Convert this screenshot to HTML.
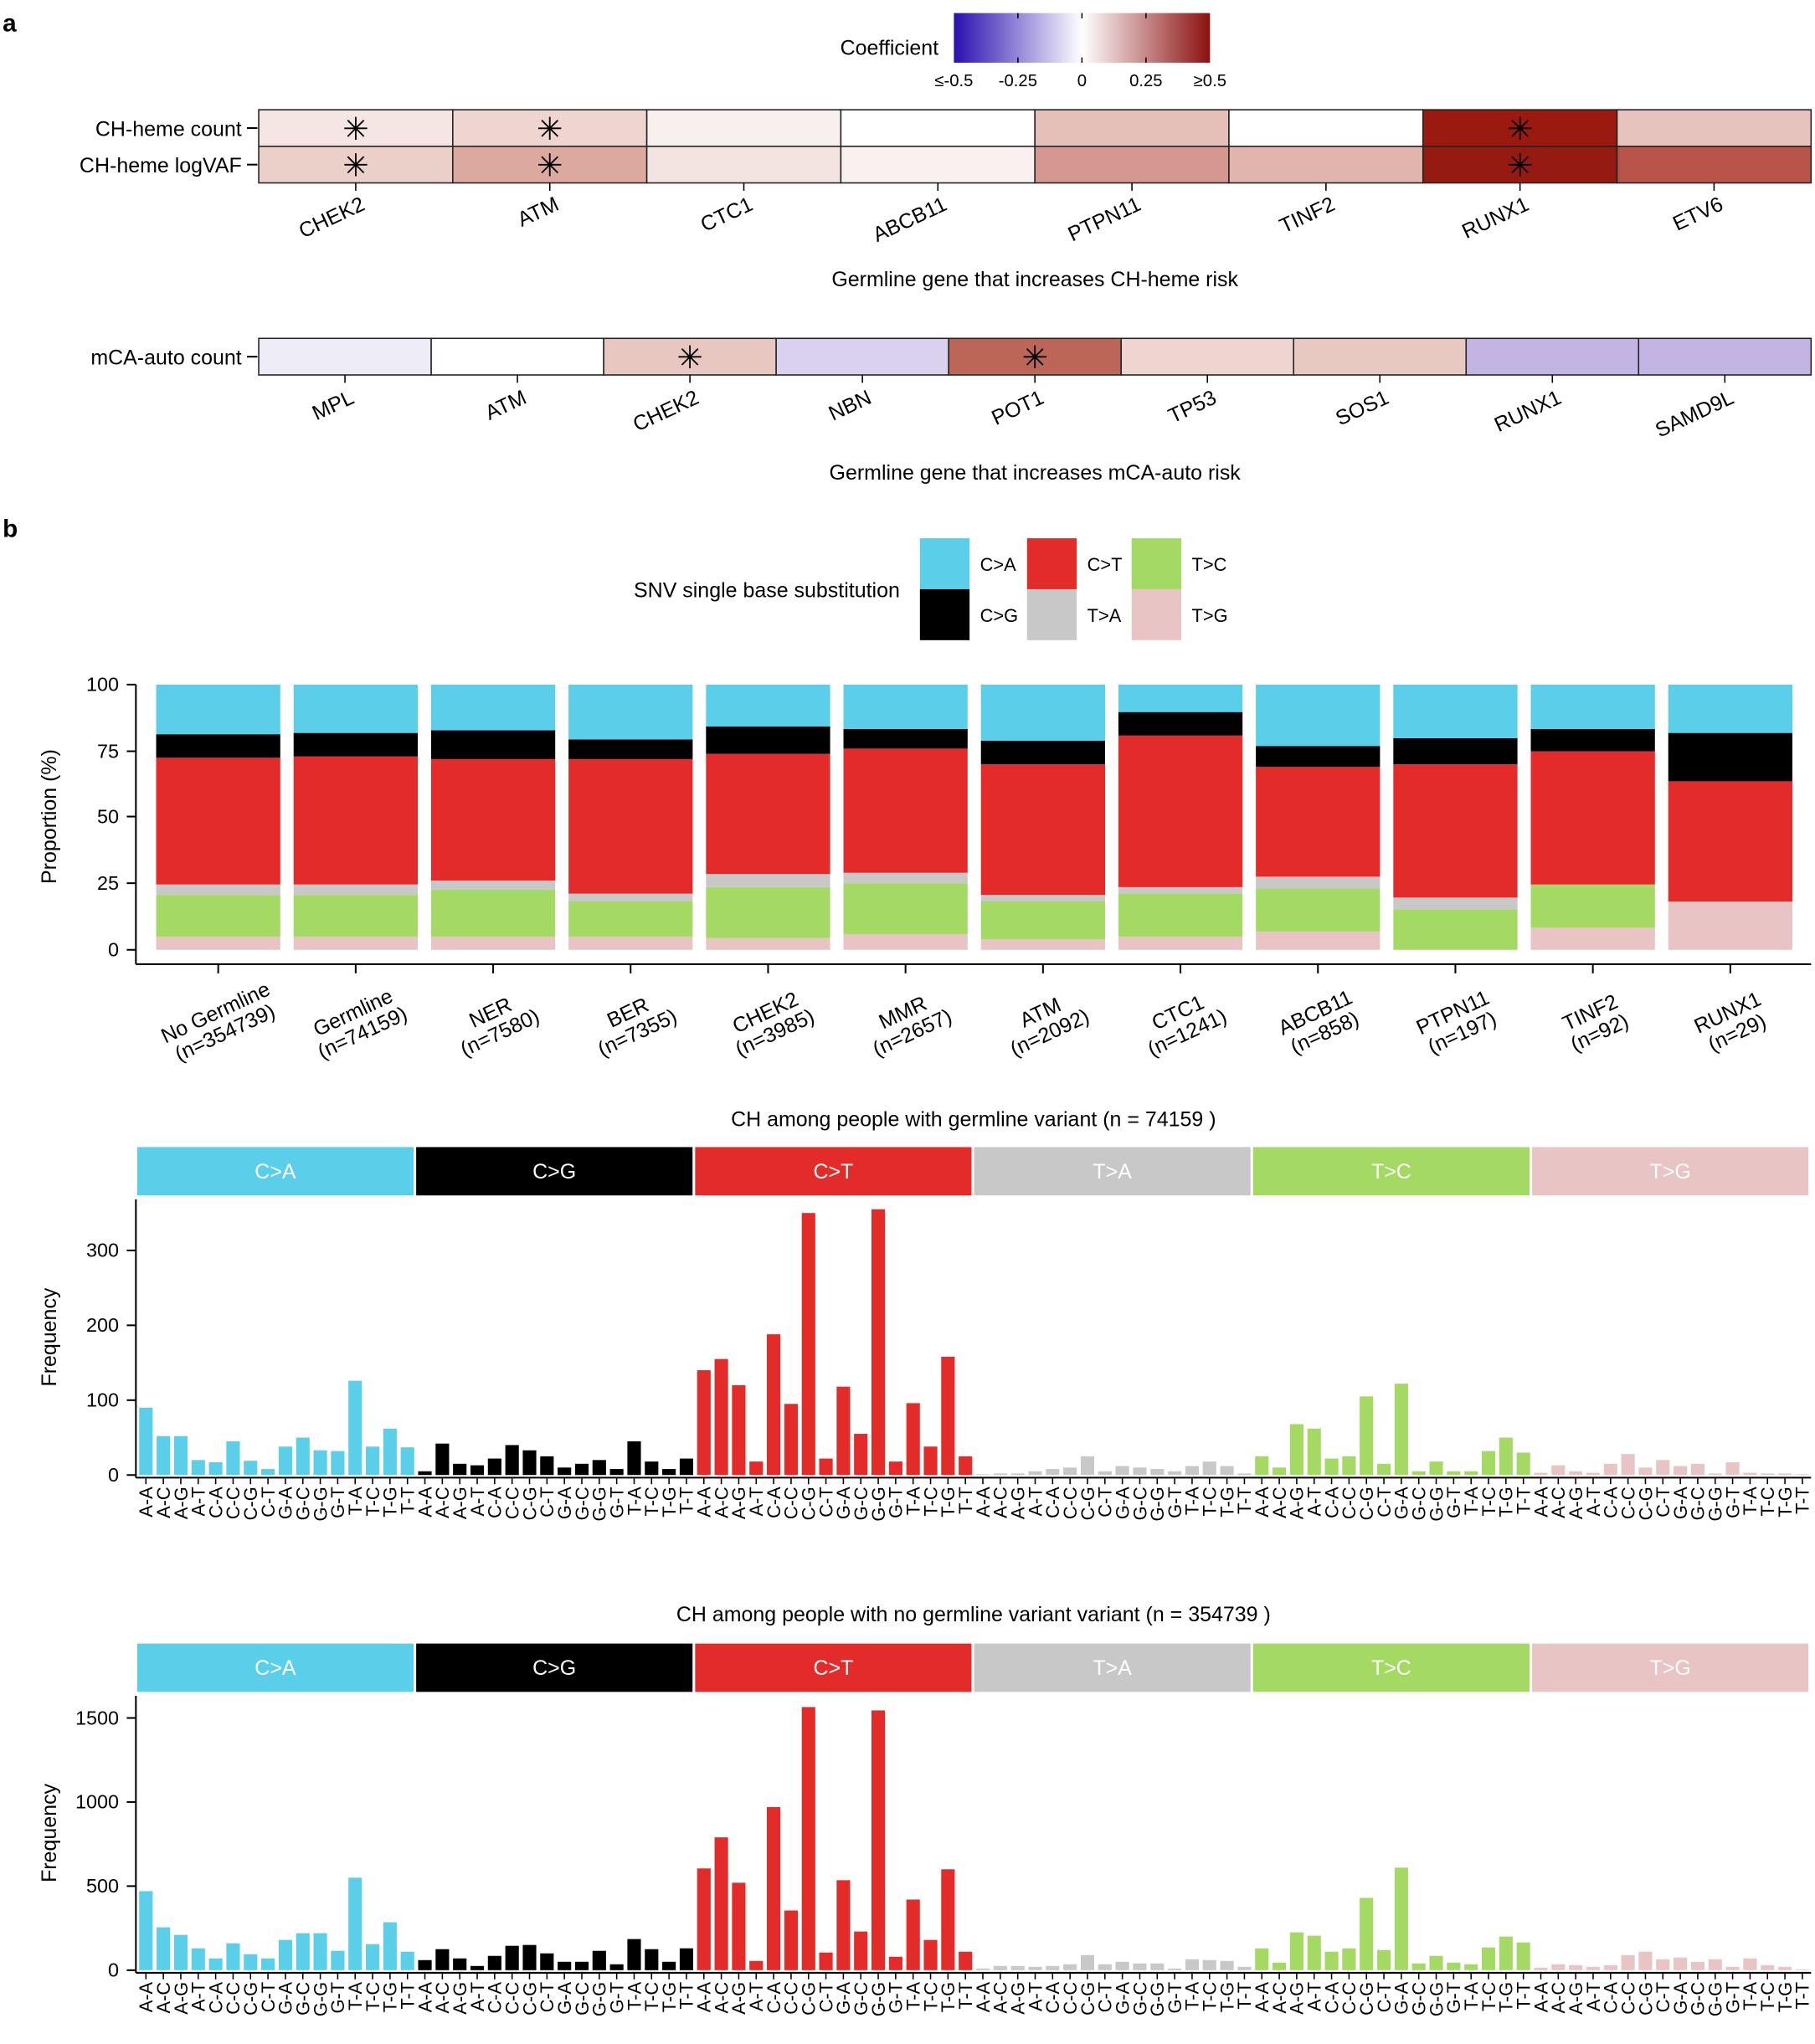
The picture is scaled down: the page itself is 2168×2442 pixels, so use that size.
<!DOCTYPE html>
<html><head><meta charset="utf-8"><style>
html,body{margin:0;padding:0;background:#fff}
svg{display:block;font-family:"Liberation Sans",Arial,sans-serif}
</style></head><body>
<svg id="s" width="2168" height="2442" viewBox="0 0 1389 1564.5" preserveAspectRatio="none" xmlns="http://www.w3.org/2000/svg">
<defs><linearGradient id="cb" x1="0" x2="1"><stop offset="0" stop-color="#2a0fb0"/><stop offset="0.5" stop-color="#ffffff"/><stop offset="1" stop-color="#8b1010"/></linearGradient></defs>
</svg>
<script>
const S=document.getElementById('s');let h='';
const T=(x,y,t,o={})=>{h+=`<text x="${x}" y="${y}" font-size="${o.fs||15}" text-anchor="${o.a||'start'}" fill="${o.f||'#000'}" ${o.tr?`transform="${o.tr}"`:''} ${o.b?'font-weight="bold"':''}>${t}</text>`};
const R=(x,y,w,ht,f,st)=>{h+=`<rect x="${x}" y="${y}" width="${w}" height="${ht}" fill="${f}" ${st?`stroke="${st}" stroke-width="1"`:''}/>`};
const L=(x1,y1,x2,y2,w=1.3)=>{h+=`<line x1="${x1}" y1="${y1}" x2="${x2}" y2="${y2}" stroke="#000" stroke-width="${w}"/>`};
const star=(x,y)=>{T(x,y+9,'✳',{fs:24,a:'middle'})};
T(2,24,'a',{fs:19,b:1});T(2,411,'b',{fs:19,b:1});
R(730,10,196,38,'url(#cb)');
[779,828,877].forEach(x=>{L(x,10,x,14,1);L(x,44,x,48,1)});
T(643,42,'Coefficient',{fs:16});
[['≤-0.5',730],['-0.25',779],['0',828],['0.25',877],['≥0.5',926]].forEach(([t,x])=>T(x,66,t,{fs:13,a:'middle'}));
const g1=['CHEK2','ATM','CTC1','ABCB11','PTPN11','TINF2','RUNX1','ETV6'];
const r1=['#f5e6e3','#eed5d0','#f8f0ef','#ffffff','#e5c0b8','#ffffff','#9a1a10','#e6c4bd'];
const r2=['#ebd0ca','#dca99f','#f3e4e1','#f8f1f0','#d49890','#e0b5ad','#951b12','#b9544a'];
const cw=148.5;
g1.forEach((g,i)=>{const x=198+i*cw;R(x,84,cw,28,r1[i],'#222');R(x,112,cw,28,r2[i],'#222');
const lx=x+cw/2+8,ly=160;
T(lx,ly,g,{fs:16,a:'end',tr:`rotate(-25 ${lx} ${ly})`});
L(x+cw/2,140,x+cw/2,146,1);
if([0,1,6].includes(i)){star(x+cw/2,98);star(x+cw/2,126)}});
T(185,104,'CH-heme count',{fs:16,a:'end'});T(185,132,'CH-heme logVAF',{fs:16,a:'end'});
L(189,98,197,98);L(189,126,197,126);
T(792,219,'Germline gene that increases CH-heme risk',{fs:16,a:'middle'});
const g2=['MPL','ATM','CHEK2','NBN','POT1','TP53','SOS1','RUNX1','SAMD9L'];
const r3=['#eeecf6','#ffffff','#e8c7c0','#d9d1ee','#bc6658','#eed5d0','#e8c9c2','#c3b4e3','#c3b4e3'];
const cw2=1188/9;
g2.forEach((g,i)=>{const x=198+i*cw2;R(x,259,cw2,28,r3[i],'#222');
const lx=x+cw2/2+8,ly=308;
T(lx,ly,g,{fs:16,a:'end',tr:`rotate(-25 ${lx} ${ly})`});
L(x+cw2/2,287,x+cw2/2,293,1);
if([2,4].includes(i))star(x+cw2/2,273)});
T(185,279,'mCA-auto count',{fs:16,a:'end'});L(189,273,197,273);
T(792,367,'Germline gene that increases mCA-auto risk',{fs:16,a:'middle'});
const C={CA:'#5bcfea',CG:'#000000',CT:'#e32b2a',TA:'#c8c8c8',TC:'#a4d964',TG:'#e8c4c4'};
T(485,457,'SNV single base substitution',{fs:16});
[[704,C.CA,'C&gt;A',C.CG,'C&gt;G'],[786,C.CT,'C&gt;T',C.TA,'T&gt;A'],[866,C.TC,'T&gt;C',C.TG,'T&gt;G']].forEach(([x,c1,t1,c2,t2])=>{R(x,412,38,39,c1);R(x,451,38,39,c2);T(x+46,437,t1,{fs:14});T(x+46,476,t2,{fs:14})});
const B=[[717,685,677,580,562],[717,685,677,579,561],[717,681,674,581,559],[717,690,684,581,566],[718,679,669,577,556],[715,676,668,573,558],[719,690,685,585,567],[717,684,679,563,545],[713,680,671,587,571],[727,696,687,585,565],[710,677,677,575,558],[690,690,690,598,561]];
const lab=[['No Germline','(n=354739)'],['Germline','(n=74159)'],['NER','(n=7580)'],['BER','(n=7355)'],['CHEK2','(n=3985)'],['MMR','(n=2657)'],['ATM','(n=2092)'],['CTC1','(n=1241)'],['ABCB11','(n=858)'],['PTPN11','(n=197)'],['TINF2','(n=92)'],['RUNX1','(n=29)']];
const sc=[C.TG,C.TC,C.TA,C.CT,C.CG,C.CA];
B.forEach((b,i)=>{const cx=167+i*105.2,x=cx-47.5;const ys=[727,...b,524];
for(let k=0;k<6;k++){if(ys[k]>ys[k+1])R(x,ys[k+1],95,ys[k]-ys[k+1],sc[k])}
L(cx,738,cx,745);const tx=cx+4,ty=788;
h+=`<g transform="rotate(-25 ${tx} ${ty})"><text x="${tx}" y="${ty-9}" font-size="16" text-anchor="middle">${lab[i][0]}</text><text x="${tx}" y="${ty+8}" font-size="16" text-anchor="middle">${lab[i][1]}</text></g>`});
L(104,738,1386,738);L(104,524,104,738);
[[100,524],[75,575],[50,625],[25,676],[0,727]].forEach(([v,y])=>{L(97,y,104,y);T(91,y+5,v,{fs:15,a:'end'})});
T(43,625,'Proportion (%)',{fs:16,a:'middle',tr:'rotate(-90 43 625)'});
const ctx=[];['A','C','G','T'].forEach(a=>['A','C','G','T'].forEach(b=>ctx.push(a+'-'+b)));
const types=[['C&gt;A',C.CA,'#fff'],['C&gt;G',C.CG,'#fff'],['C&gt;T',C.CT,'#fff'],['T&gt;A',C.TA,'#fff'],['T&gt;C',C.TC,'#fff'],['T&gt;G',C.TG,'#fff']];
function panel(title,tY,sY,y0,k,ticks,vals){
T(745,tY,title,{fs:16,a:'middle'});
types.forEach((t,i)=>{const x=105+i*213.5;R(x,sY,211.5,37,t[1]);T(x+105.75,sY+24,t[0],{fs:16,a:'middle',f:t[2]})});
const bw=1281/96;
vals.forEach((v,i)=>{const x=105+i*bw;const c=types[Math.floor(i/16)][1];R(x+1.5,y0-v*k,bw-3,v*k,c);
L(x+bw/2,y0+2,x+bw/2,y0+7,1);
const tx=x+bw/2+5,ty=y0+9;T(tx,ty,ctx[i%16],{fs:14,a:'end',tr:`rotate(-90 ${tx} ${ty})`})});
L(104,y0+2,1386,y0+2);L(104,sY+40,104,y0+2);
ticks.forEach(v=>{const y=y0-v*k;L(97,y,104,y);T(91,y+5,v,{fs:15,a:'end'})});
const my=(sY+40+y0)/2;T(43,my,'Frequency',{fs:16,a:'middle',tr:`rotate(-90 43 ${my})`});
}
const v1=[90,52,52,20,17,45,19,8,38,50,33,32,126,38,62,37, 5,42,15,13,22,40,33,25,10,15,20,8,45,18,8,22, 140,155,120,18,188,95,350,22,118,55,355,18,96,38,158,25, 1,2,2,5,8,10,25,5,12,10,8,5,12,18,12,2, 25,10,68,62,22,25,105,15,122,5,18,5,5,32,50,30, 3,13,5,3,15,28,10,20,12,15,2,17,3,2,2,1];
const v2=[470,255,210,130,70,160,95,70,180,220,220,115,550,155,285,110, 60,125,70,25,85,145,150,100,50,50,115,35,185,125,50,130, 605,790,520,55,970,355,1565,105,535,230,1545,80,420,180,600,110, 10,25,25,20,25,35,90,35,50,40,40,10,65,60,55,20, 130,45,225,205,110,130,430,120,610,40,85,45,35,135,200,165, 15,35,30,20,30,90,110,65,75,50,65,20,70,30,20,5];
panel('CH among people with germline variant  (n =  74159 )',862,878,1129,0.573,[0,100,200,300],v1);
panel('CH among people with no germline variant variant  (n =  354739 )',1241,1258,1508,0.1287,[0,500,1000,1500],v2);
S.insertAdjacentHTML('beforeend',h);
</script>
</body></html>
